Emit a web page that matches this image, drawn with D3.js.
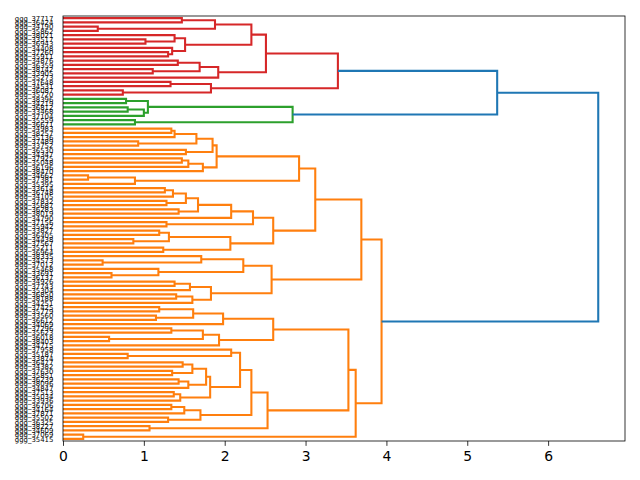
<!DOCTYPE html>
<html>
<head>
<meta charset="utf-8">
<script src="https://cdn.jsdelivr.net/npm/d3@7/dist/d3.min.js"></script>
<style>
  body { margin: 0; background: #fff; }
  svg { font-family: "DejaVu Sans", sans-serif; }
</style>
</head>
<body>
<svg id="chart" width="640" height="480"></svg>
<script>
// leaf labels, top to bottom
var leafLabels = [
  "37717","36424","34190","35862","38021","33517","36943","34408","37260","35911",
  "34876","36359","38142","33905","35273","37648","34531","36087","35720","38396",
  "34219","36812","33468","37104","35559","36671","34983","38257","35136","37489",
  "33752","36530","34347","37925","35048","36196","38470","34662","37381","35395",
  "33614","36748","34105","37832","35687","36283","38019","34790","37156","35942",
  "33827","36405","34438","37567","35211","36964","38335","34573","37012","35468",
  "33691","36137","34926","37743","35304","36850","38188","34251","37425","35779",
  "33560","36612","34069","37296","35623","36018","38403","34715","37958","35187",
  "33874","36477","34382","37630","35851","36239","38096","34847","37513","35034",
  "33936","36706","34164","37871","35502","36325","38227","34609","37069","35415"
].map(function(s) { return "ggg_" + s; });

// merges as nested [height, upper, lower]; numbers are leaf indices
var redTree = [3.40,
  [2.51,
    [2.33,
      [1.88, [1.47, 0, 1], [0.43, 2, 3]],
      [1.51, [1.38, 4, [1.02, 5, 6]], [1.35, 7, [1.30, 8, 9]]]],
    [1.92, [1.69, [1.42, 10, 11], [1.11, 12, 13]], 14]],
  [1.83, [1.33, 15, 16], [0.74, 17, 18]]];

var greenTree = [2.84,
  [1.05, [0.78, 19, 20], [1.00, [0.80, 21, 22], 23]],
  [0.89, 24, 25]];

var orangeUpper = [3.69,
  [3.12,
    [2.92,
      [1.90,
        [1.85, [1.65, [1.38, [1.34, 26, 27], 28], [0.93, 29, 30]], [1.52, 31, 32]],
        [1.73, [1.55, [1.47, 33, 34], 35], 36]],
      [0.89, [0.31, 37, 38], 39]],
    [2.60,
      [2.35,
        [2.08, [1.67, [1.52, [1.36, [1.26, 40, 41], 42], [1.28, 43, 44]], [1.43, 45, 46]], 47],
        [1.28, 48, 49]],
      [2.07, [1.31, [1.19, 50, 51], [0.87, 52, 53]], [1.24, 54, 55]]]],
  [2.58,
    [2.23, [1.71, 56, [0.49, 57, 58]], [1.18, 59, [0.60, 60, 61]]],
    [1.83, [1.57, [1.38, 62, 63], 64], [1.60, [1.40, 65, 66], 67]]]];

var orangeLower = [3.62,
  [3.53,
    [2.60,
      [1.98, [1.61, [1.19, 68, 69], [1.15, 70, 71]], 72],
      [1.93, [1.73, [1.34, 73, 74], [0.57, 75, 76]], 77]],
    [2.53,
      [2.33,
        [2.19,
          [2.08, 78, [0.80, 79, 80]],
          [1.82,
            [1.77, [1.60, [1.48, 81, 82], [1.35, 83, 84]], [1.55, [1.43, 85, 86], 87]],
            [1.45, [1.37, 88, 89], 90]]],
        [1.70, [1.50, [1.34, 91, 92], 93], [1.30, 94, 95]]],
      [1.07, 96, 97]]],
  [0.25, 98, 99]];

var upperHeight = 5.37, orangeHeight = 3.94, rootHeight = 6.62;
var xTicks = [0, 1, 2, 3, 4, 5, 6];
var clusterColors = ["#d62728", "#2ca02c", "#ff7f0e"]; // top to bottom
var aboveColor = "#1f77b4";

var tree = [rootHeight, [upperHeight, redTree, greenTree], [orangeHeight, orangeUpper, orangeLower]];
var threshold = 0.7 * rootHeight;

var svg = d3.select("#chart"),
  margin = {top: 16, right: 15, bottom: 39, left: 63},
  width = +svg.attr("width") - margin.left - margin.right,
  height = +svg.attr("height") - margin.top - margin.bottom;

var n = leafLabels.length;
var x = d3.scaleLinear().domain([0, rootHeight * 1.05]).range([0, width]);
var y = d3.scaleLinear().domain([0, n]).range([0, height]);

var g = svg.append("g")
  .attr("transform", "translate(" + margin.left + "," + margin.top + ")");

// walk the nested tree, collect links
var links = [];
var clusterIndex = 0;
function walk(node, color) {
  if (typeof node === "number") return {h: 0, pos: node + 0.5};
  var h = node[0];
  var c = color;
  if (h < threshold && !c) c = clusterColors[clusterIndex++];
  var a = walk(node[1], c), b = walk(node[2], c);
  links.push({h: h, a: a, b: b, color: h >= threshold ? aboveColor : c});
  return {h: h, pos: (a.pos + b.pos) / 2};
}
walk(tree, null);

var line = d3.line().x(function(d) { return x(d[0]); }).y(function(d) { return y(d[1]); });

g.selectAll(".link")
  .data(links)
  .enter().append("path")
  .attr("class", "link")
  .attr("fill", "none")
  .attr("stroke", function(d) { return d.color; })
  .attr("stroke-width", 2.08)
  .attr("d", function(d) {
    return line([[d.a.h, d.a.pos], [d.h, d.a.pos], [d.h, d.b.pos], [d.b.h, d.b.pos]]);
  });

// leaf labels
var yAxis = d3.axisLeft(y)
  .tickValues(d3.range(n).map(function(i) { return i + 0.5; }))
  .tickFormat(function(d) { return leafLabels[Math.floor(d)]; })
  .tickSize(0)
  .tickPadding(9.7);

g.append("g")
  .attr("class", "axis axis--y")
  .call(yAxis)
  .call(function(s) {
    s.select(".domain").remove();
    s.selectAll("text").attr("font-size", "6.9px").attr("font-family", "DejaVu Sans").attr("fill", "#000");
  });

var xAxis = d3.axisBottom(x)
  .tickValues(xTicks)
  .tickFormat(d3.format("d"))
  .tickSize(4.86)
  .tickPadding(4.9);

g.append("g")
  .attr("class", "axis axis--x")
  .attr("transform", "translate(0," + height + ")")
  .call(xAxis)
  .call(function(s) {
    s.select(".domain").remove();
    s.selectAll("line").attr("stroke", "#000").attr("stroke-width", 0.8);
    s.selectAll("text").attr("font-size", "13.9px").attr("font-family", "DejaVu Sans").attr("fill", "#000");
  });

// frame
g.append("rect")
  .attr("width", width)
  .attr("height", height)
  .attr("fill", "none")
  .attr("stroke", "#000")
  .attr("stroke-width", 0.8);
</script>
</body>
</html>
